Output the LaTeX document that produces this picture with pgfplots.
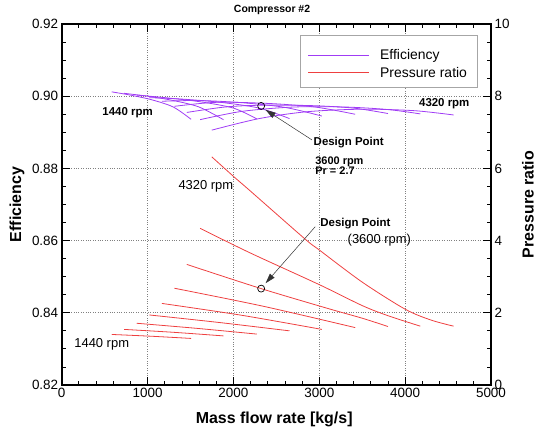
\documentclass[border=0pt]{standalone}
\usepackage{pgfplots}
\pgfplotsset{compat=1.18}
\usepackage{fontspec}
\setmainfont{Liberation Sans}
\usetikzlibrary{arrows.meta}
\definecolor{effc}{RGB}{160,60,245}
\definecolor{prc}{RGB}{238,64,64}
\begin{document}
\begin{tikzpicture}
\path[use as bounding box] (0,0) rectangle (537bp,430bp);
\pgfplotsset{
  common/.style={
    scale only axis, width=429.3bp, height=361bp,
    at={(61.7bp,45bp)}, anchor=south west,
    xmin=0, xmax=5000, clip=false,
    tick align=inside,
    major tick length=8bp, minor tick length=4bp,
    major tick style={black, line width=1.1bp},
    minor tick style={black, line width=0.8bp},
    axis line style={line width=1.6bp},
    tick label style={font=\fontsize{13.5}{15}\selectfont},
    /pgf/number format/assume math mode=true,
    /pgf/number format/1000 sep={},
    scaled ticks=false,
    label style={font=\bfseries\fontsize{16}{18}\selectfont},
  },
  eff/.style={effc, line width=0.8bp, smooth, tension=0.5},
  pr/.style={prc, line width=0.8bp, smooth, tension=0.5, forget plot},
}
\begin{axis}[common,
  ymin=0.82, ymax=0.92,
  ytick={0.82,0.84,0.86,0.88,0.90,0.92},
  xtick={0,1000,2000,3000,4000,5000},
  minor y tick num=3, minor x tick num=4,
  ytick pos=left,
  grid=major, major grid style={dotted, gray, line width=0.8bp},
  y tick label style={/pgf/number format/.cd, fixed, fixed zerofill, precision=2, /tikz/.cd},
  xlabel={Mass flow rate [kg/s]}, ylabel={Efficiency},
  xlabel style={at={(axis description cs:0.495,-0.094)}, anchor=center},
  ylabel style={at={(axis description cs:-0.104,0.5)}, anchor=center},
  title={Compressor \#2},
  title style={font=\bfseries\fontsize{10.5}{12}\selectfont, at={(axis description cs:0.49,1.022)}, anchor=center},
]
\addplot[eff] coordinates {(583,0.9012) (800,0.9003) (1050,0.8990) (1300,0.8970) (1507,0.8936)};
\addplot[eff] coordinates {(726,0.9008) (1000,0.9000) (1300,0.8988) (1600,0.8970) (1884,0.8935)};
\addplot[eff] coordinates {(874,0.9003) (1200,0.8996) (1600,0.8985) (2000,0.8967) (2273,0.8937)};
\addplot[eff] coordinates {(1021,0.8996) (1400,0.8992) (1850,0.8983) (2300,0.8967) (2653,0.8938)};
\addplot[eff] coordinates {(1166,0.8986) (1600,0.8988) (2100,0.8982) (2600,0.8969) (3030,0.8945)};
\addplot[eff] coordinates {(1313,0.8972) (1800,0.8983) (2400,0.8980) (2950,0.8970) (3418,0.8950)};
\addplot[eff] coordinates {(1457,0.8955) (1900,0.8970) (2323,0.8975) (2900,0.8974) (3400,0.8967) (3800,0.8952)};
\addplot[eff] coordinates {(1612,0.8935) (2100,0.8958) (2700,0.8970) (3300,0.8970) (3800,0.8963) (4176,0.8951)};
\addplot[eff] coordinates {(1748,0.8906) (2300,0.8938) (2858,0.8957) (3500,0.8964) (4100,0.8960) (4564,0.8948)};
\addplot[only marks, mark=o, mark size=3.5bp, black, line width=0.7bp] coordinates {(2323,0.8973)};
\draw[-{Triangle[length=10bp,width=6bp]}, line width=0.5bp, black!80] (axis cs:2914,0.8879) -- (axis cs:2375,0.8962);
\node[font=\bfseries\fontsize{11.5}{13}\selectfont] at (axis cs:767,0.8953) {1440 rpm};
\node[font=\bfseries\fontsize{11.5}{13}\selectfont] at (axis cs:4456,0.8980) {4320 rpm};
\node[anchor=west, inner sep=0pt, font=\bfseries\fontsize{11.5}{13}\selectfont] at (axis cs:2933,0.8871) {Design Point};
\node[anchor=west, inner sep=0pt, align=left, font=\bfseries\fontsize{11}{10}\selectfont] at (axis cs:2952,0.88075) {3600 rpm\\Pr = 2.7};
\end{axis}
\begin{axis}[common,
  ymin=0, ymax=10,
  ytick={0,2,4,6,8,10},
  minor y tick num=3,
  axis y line*=right, axis x line=none,
  ylabel={Pressure ratio},
  ylabel style={at={(axis description cs:1.086,0.5)}, anchor=center},
]
\addplot[pr] coordinates {(583,1.40) (1050,1.35) (1507,1.29)};
\addplot[pr] coordinates {(726,1.54) (1300,1.46) (1884,1.36)};
\addplot[pr] coordinates {(874,1.71) (1570,1.57) (2273,1.41)};
\addplot[pr] coordinates {(1021,1.94) (1840,1.73) (2653,1.50)};
\addplot[pr] coordinates {(1166,2.26) (2100,1.93) (3030,1.54)};
\addplot[pr] coordinates {(1313,2.68) (2350,2.18) (3418,1.59)};
\addplot[pr] coordinates {(1457,3.34) (2323,2.67) (3100,2.12) (3500,1.85) (3800,1.62)};
\addplot[pr] coordinates {(1612,4.34) (2194,3.66) (3000,2.78) (3500,2.20) (3800,1.92) (4176,1.63)};
\addplot[pr] coordinates {(1748,6.32) (2000,5.78) (2194,5.38) (2836,4.04) (3000,3.74) (3500,2.85) (4000,2.10) (4300,1.80) (4564,1.63)};
\addplot[only marks, mark=o, mark size=3.5bp, black, line width=0.7bp, forget plot] coordinates {(2323,2.67)};
\draw[-{Triangle[length=10bp,width=6bp]}, line width=0.5bp, black!80] (axis cs:2953,4.385) -- (axis cs:2375,2.82);
\node[font=\fontsize{13}{15}\selectfont] at (axis cs:1679,5.49) {4320 rpm};
\node[font=\fontsize{13}{15}\selectfont] at (axis cs:466,1.13) {1440 rpm};
\node[anchor=west, inner sep=0pt, font=\bfseries\fontsize{11.5}{13}\selectfont] at (axis cs:3011,4.48) {Design Point};
\node[font=\fontsize{13}{15}\selectfont] at (axis cs:3700,4.0) {(3600 rpm)};
% legend
\draw[draw=gray!70, fill=white, line width=0.8bp] (axis description cs:0.555,0.9695) rectangle (axis description cs:0.9689,0.8247);
\draw[draw=effc, line width=1bp] (axis description cs:0.5744,0.9114) -- (axis description cs:0.7165,0.9114);
\draw[draw=prc, line width=1bp] (axis description cs:0.5744,0.8651) -- (axis description cs:0.7165,0.8651);
\node[anchor=west, inner sep=0pt, font=\fontsize{14}{16}\selectfont] at (axis description cs:0.7414,0.9114) {Efficiency};
\node[anchor=west, inner sep=0pt, font=\fontsize{14}{16}\selectfont] at (axis description cs:0.7414,0.8651) {Pressure ratio};
\end{axis}
\end{tikzpicture}
\end{document}
